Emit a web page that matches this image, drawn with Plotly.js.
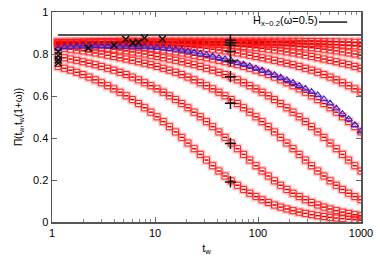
<!DOCTYPE html>
<html><head><meta charset="utf-8">
<script src="https://cdn.plot.ly/plotly-3.0.1.min.js"></script>
<style>html,body{margin:0;padding:0;background:#fff}#c{width:380px;height:266px}</style>
</head><body><div id="c"></div>
<script>
const tw = [1.148,1.318,1.514,1.738,1.995,2.291,2.630,3.020,3.467,3.981,4.571,5.248,6.026,6.918,7.943,9.120,10.47,12.02,13.80,15.85,18.20,20.89,23.99,27.54,31.62,36.31,41.69,47.86,54.95,63.10,72.44,83.18,95.50,109.6,125.9,144.5,166.0,190.5,218.8,251.2,288.4,331.1,380.2,436.5,501.2,575.4,660.7,758.6,871.0,1000];

const curveA = [0.851,0.853,0.855,0.856,0.857,0.858,0.859,0.859,0.860,0.860,0.861,0.861,0.861,0.861,0.861,0.861,0.861,0.861,0.861,0.861,0.861,0.861,0.861,0.861,0.861,0.861,0.861,0.861,0.861,0.861,0.861,0.861,0.861,0.861,0.861,0.861,0.861,0.861,0.861,0.861,0.860,0.860,0.859,0.859,0.858,0.858,0.857,0.857,0.856,0.856];
const curveB = [0.855,0.855,0.855,0.855,0.855,0.855,0.855,0.855,0.855,0.855,0.855,0.855,0.855,0.855,0.855,0.855,0.855,0.855,0.855,0.855,0.855,0.855,0.855,0.855,0.855,0.855,0.855,0.855,0.855,0.855,0.855,0.855,0.855,0.855,0.854,0.854,0.853,0.853,0.852,0.851,0.851,0.850,0.849,0.848,0.846,0.845,0.843,0.841,0.839,0.836];
const curveC = [0.855,0.855,0.855,0.855,0.855,0.855,0.855,0.855,0.855,0.855,0.855,0.855,0.855,0.855,0.855,0.855,0.855,0.855,0.855,0.855,0.855,0.855,0.855,0.855,0.854,0.854,0.853,0.853,0.852,0.851,0.851,0.850,0.849,0.848,0.846,0.845,0.843,0.841,0.839,0.836,0.833,0.830,0.827,0.823,0.819,0.815,0.810,0.805,0.800,0.794];
const curveD = [0.855,0.855,0.855,0.855,0.855,0.855,0.855,0.855,0.855,0.855,0.855,0.855,0.855,0.855,0.855,0.854,0.854,0.853,0.853,0.852,0.851,0.851,0.850,0.849,0.848,0.846,0.845,0.843,0.841,0.839,0.836,0.833,0.830,0.827,0.823,0.819,0.815,0.810,0.805,0.800,0.794,0.788,0.782,0.776,0.770,0.763,0.756,0.749,0.741,0.732];
const curveE = [0.855,0.855,0.855,0.855,0.855,0.855,0.854,0.854,0.853,0.853,0.852,0.851,0.851,0.850,0.849,0.848,0.846,0.845,0.843,0.841,0.839,0.836,0.833,0.830,0.827,0.823,0.819,0.815,0.810,0.805,0.800,0.794,0.788,0.782,0.776,0.770,0.763,0.756,0.749,0.741,0.732,0.723,0.713,0.702,0.690,0.677,0.663,0.649,0.634,0.618];
const curveF = [0.853,0.852,0.851,0.851,0.850,0.849,0.848,0.846,0.845,0.843,0.841,0.839,0.836,0.833,0.830,0.827,0.823,0.819,0.815,0.810,0.805,0.800,0.794,0.788,0.782,0.776,0.770,0.763,0.756,0.749,0.741,0.732,0.723,0.713,0.702,0.690,0.677,0.663,0.649,0.634,0.618,0.601,0.583,0.564,0.544,0.523,0.501,0.478,0.454,0.429];
const curveG = [0.846,0.845,0.843,0.841,0.839,0.836,0.833,0.830,0.827,0.823,0.819,0.815,0.810,0.805,0.800,0.794,0.788,0.782,0.776,0.770,0.763,0.756,0.749,0.741,0.732,0.723,0.713,0.702,0.690,0.677,0.663,0.649,0.634,0.618,0.601,0.583,0.564,0.544,0.523,0.501,0.478,0.454,0.429,0.403,0.376,0.349,0.322,0.295,0.268,0.243];
const curveH = [0.830,0.827,0.823,0.819,0.815,0.810,0.805,0.800,0.794,0.788,0.782,0.776,0.770,0.763,0.756,0.749,0.741,0.732,0.723,0.713,0.702,0.690,0.677,0.663,0.649,0.634,0.618,0.601,0.583,0.564,0.544,0.523,0.501,0.478,0.454,0.429,0.403,0.376,0.349,0.322,0.295,0.268,0.243,0.219,0.196,0.175,0.155,0.137,0.121,0.106];
const curveL2 = [0.788,0.782,0.776,0.770,0.763,0.756,0.749,0.741,0.732,0.723,0.713,0.702,0.690,0.677,0.663,0.649,0.634,0.618,0.601,0.583,0.564,0.544,0.523,0.501,0.478,0.454,0.429,0.403,0.376,0.349,0.322,0.295,0.268,0.243,0.219,0.196,0.175,0.155,0.137,0.121,0.106,0.093,0.081,0.071,0.062,0.054,0.047,0.041,0.035,0.030];
const curveL1 = [0.741,0.732,0.723,0.713,0.702,0.690,0.677,0.663,0.649,0.634,0.618,0.601,0.583,0.564,0.544,0.523,0.501,0.478,0.454,0.429,0.403,0.376,0.349,0.322,0.295,0.268,0.243,0.219,0.196,0.175,0.155,0.137,0.121,0.106,0.093,0.081,0.071,0.062,0.054,0.047,0.041,0.035,0.030,0.026,0.022,0.019,0.016,0.013,0.011,0.009];

const blueCurve = [0.826,0.832,0.835,0.836,0.837,0.837,0.837,0.837,0.837,0.836,0.836,0.835,0.835,0.834,0.833,0.832,0.830,0.828,0.825,0.822,0.818,0.813,0.808,0.802,0.796,0.789,0.782,0.775,0.767,0.759,0.751,0.742,0.732,0.722,0.711,0.700,0.688,0.676,0.663,0.649,0.635,0.620,0.604,0.585,0.565,0.541,0.515,0.490,0.462,0.432];

const crossX_t = [1.15,1.15,1.15,1.15,2.25,4.0,5.2,6.1,6.9,7.9,11.8];
const crossX_v = [0.812,0.792,0.772,0.757,0.828,0.842,0.870,0.853,0.856,0.876,0.871];
const plus_t = [54,54,54,54,54,54,54,54,54];
const plus_v = [0.866,0.853,0.842,0.812,0.767,0.692,0.565,0.374,0.191];

const hLineT = [1.14,1000];
const hLineV = [0.89,0.89];
const legendLabel = 'H<sub>x~0.2</sub>(ω=0.5)';

const redSets = [curveA,curveB,curveC,curveD,curveE,curveF,curveG,curveH,curveL2,curveL1];
const traces = [];
traces.push({x:hLineT,y:hLineV,mode:'lines',line:{color:'#1a1a1a',width:1.5},hoverinfo:'skip'});
redSets.forEach(y=>traces.push({x:tw,y:y,mode:'markers',marker:{symbol:'square-open',size:8,color:'rgba(255,130,130,0.45)',line:{width:1.8}},hoverinfo:'skip'}));
redSets.forEach(y=>traces.push({x:tw,y:y,mode:'markers',marker:{symbol:'square-open',size:6,color:'#ff1a1a',line:{width:1}}}));
redSets.forEach(y=>traces.push({x:tw,y:y,mode:'markers',marker:{symbol:'line-ew-open',size:3,color:'#e00000',line:{width:1.5}}}));
traces.push({x:tw,y:blueCurve,mode:'lines+markers',line:{color:'#4a4aff',width:0.8},marker:{symbol:'triangle-up-open',size:6.5,color:'#3320d0',line:{width:1.1}}});
traces.push({x:crossX_t,y:crossX_v,mode:'markers',marker:{symbol:'x-thin-open',size:7,color:'#111',line:{width:1.5}}});
traces.push({x:plus_t,y:plus_v,mode:'markers',marker:{symbol:'cross-thin-open',size:8,color:'#111',line:{width:1.5}}});
traces.forEach(t=>{t.type='scatter';t.showlegend=false;t.cliponaxis=true;});

const minorVals = [];
[1,10,100].forEach(d=>{for(let k=2;k<=9;k++) minorVals.push(k*d);});

const fnt = 'Liberation Sans, Arial, Helvetica, sans-serif';
const layout = {
  width:380, height:266,
  margin:{l:52,r:19,t:12,b:44},
  paper_bgcolor:'#fff', plot_bgcolor:'#fff',
  font:{family:fnt,size:11,color:'#000'},
  xaxis:{type:'log',range:[0,3],tickmode:'array',tickvals:[1,10,100,1000],ticktext:['1','10','100','1000'],
    ticks:'inside',ticklen:5,tickwidth:1,tickcolor:'#666',showline:true,linecolor:'#555',linewidth:1.5,mirror:'ticks',
    showgrid:false,zeroline:false,tickfont:{size:11},
    minor:{tickmode:'array',tickvals:minorVals,ticks:'inside',ticklen:3,tickcolor:'#888',tickwidth:1,showgrid:false},
    title:{text:'t<sub>w</sub>',font:{size:11},standoff:6}},
  yaxis:{range:[0,1],tickmode:'array',tickvals:[0,0.2,0.4,0.6,0.8,1],ticktext:['0','0.2','0.4','0.6','0.8','1'],
    ticks:'inside',ticklen:5,tickwidth:1,tickcolor:'#666',showline:true,linecolor:'#555',linewidth:1.5,mirror:'ticks',
    showgrid:false,zeroline:false,tickfont:{size:11},
    title:{text:'Π(t<sub>w</sub>,t<sub>w</sub>(1+ω))',font:{size:10},standoff:8}},
  annotations:[{xref:'paper',yref:'paper',x:0.645,y:0.958,xanchor:'left',yanchor:'middle',text:legendLabel,showarrow:false,font:{size:11}}],
  shapes:[{type:'line',xref:'paper',yref:'paper',x0:0.864,x1:0.955,y0:0.952,y1:0.952,line:{color:'#1a1a1a',width:1.5}}]
};
Plotly.newPlot('c',traces,layout,{displayModeBar:false,staticPlot:true});
</script></body></html>
